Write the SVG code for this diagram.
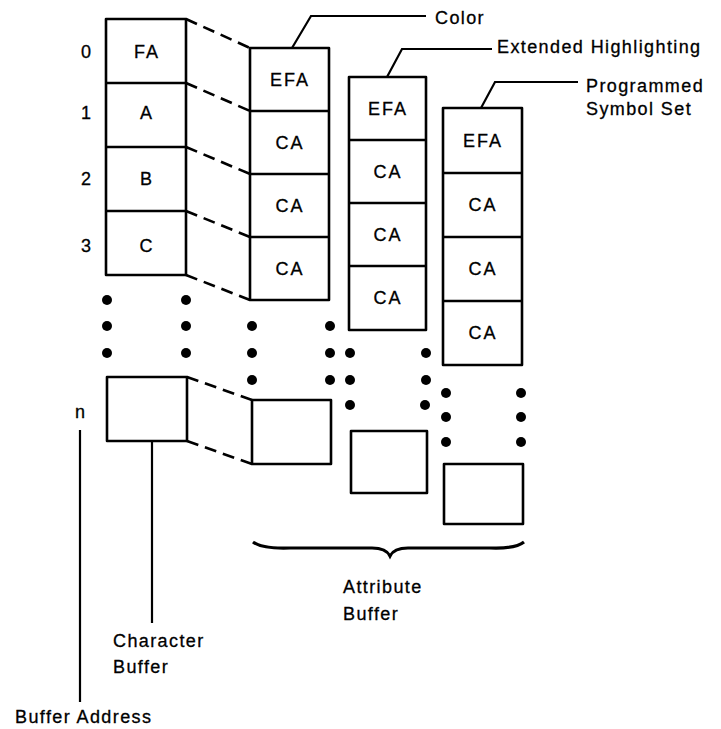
<svg xmlns="http://www.w3.org/2000/svg" width="721" height="729" viewBox="0 0 721 729">
<style>
.box{fill:none;stroke:#000;stroke-width:2.6;stroke-linejoin:round}
.dash{fill:none;stroke:#000;stroke-width:2.6;stroke-dasharray:12 7}
.lead{fill:none;stroke:#000;stroke-width:2.2}
.dot{fill:#000}
text{font-family:"Liberation Sans",Arial,sans-serif;font-size:18px;fill:#000;stroke:#000;stroke-width:0.3}
.cell{text-anchor:middle;letter-spacing:2px}
.lbl{letter-spacing:1.4px}
</style>
<rect width="721" height="729" fill="#fff"/>
<g id="addresses">
<text x="86" y="58" text-anchor="middle">0</text>
<text x="86" y="119" text-anchor="middle">1</text>
<text x="86" y="185" text-anchor="middle">2</text>
<text x="86" y="252" text-anchor="middle">3</text>
<text x="80" y="418" text-anchor="middle">n</text>
</g>
<g id="character-buffer">
<rect class="box" x="106" y="19" width="80" height="256"/>
<line class="box" x1="106" y1="83" x2="186" y2="83"/>
<line class="box" x1="106" y1="147" x2="186" y2="147"/>
<line class="box" x1="106" y1="211" x2="186" y2="211"/>
<text class="cell" x="147" y="58">FA</text>
<text class="cell" x="147" y="119">A</text>
<text class="cell" x="147" y="185">B</text>
<text class="cell" x="147" y="252">C</text>
<circle class="dot" cx="107" cy="300" r="5"/><circle class="dot" cx="107" cy="326" r="5"/><circle class="dot" cx="107" cy="353" r="5"/>
<circle class="dot" cx="186" cy="300" r="5"/><circle class="dot" cx="186" cy="326" r="5"/><circle class="dot" cx="186" cy="353" r="5"/>
<rect class="box" x="107" y="377" width="80" height="64"/>
</g>
<g id="color-buffer">
<rect class="box" x="250" y="48" width="79" height="252"/>
<line class="box" x1="250" y1="111" x2="329" y2="111"/>
<line class="box" x1="250" y1="174" x2="329" y2="174"/>
<line class="box" x1="250" y1="237" x2="329" y2="237"/>
<text class="cell" x="290" y="86">EFA</text>
<text class="cell" x="290" y="149">CA</text>
<text class="cell" x="290" y="212">CA</text>
<text class="cell" x="290" y="275">CA</text>
<circle class="dot" cx="252" cy="326" r="5"/><circle class="dot" cx="252" cy="353" r="5"/><circle class="dot" cx="252" cy="380" r="5"/>
<circle class="dot" cx="330" cy="326" r="5"/><circle class="dot" cx="330" cy="353" r="5"/><circle class="dot" cx="330" cy="380" r="5"/>
<rect class="box" x="252" y="400" width="79" height="64"/>
</g>
<g id="extended-highlighting-buffer">
<rect class="box" x="349" y="77" width="77" height="253"/>
<line class="box" x1="349" y1="140" x2="426" y2="140"/>
<line class="box" x1="349" y1="203" x2="426" y2="203"/>
<line class="box" x1="349" y1="266" x2="426" y2="266"/>
<text class="cell" x="388" y="115">EFA</text>
<text class="cell" x="388" y="178">CA</text>
<text class="cell" x="388" y="241">CA</text>
<text class="cell" x="388" y="304">CA</text>
<circle class="dot" cx="350" cy="353" r="5"/><circle class="dot" cx="350" cy="380" r="5"/><circle class="dot" cx="350" cy="405" r="5"/>
<circle class="dot" cx="426" cy="353" r="5"/><circle class="dot" cx="426" cy="380" r="5"/><circle class="dot" cx="425" cy="405" r="5"/>
<rect class="box" x="351" y="431" width="76" height="62"/>
</g>
<g id="programmed-symbol-set-buffer">
<rect class="box" x="443" y="108" width="79" height="257"/>
<line class="box" x1="443" y1="173" x2="522" y2="173"/>
<line class="box" x1="443" y1="237" x2="522" y2="237"/>
<line class="box" x1="443" y1="301" x2="522" y2="301"/>
<text class="cell" x="483" y="147">EFA</text>
<text class="cell" x="483" y="211">CA</text>
<text class="cell" x="483" y="275">CA</text>
<text class="cell" x="483" y="339">CA</text>
<circle class="dot" cx="446" cy="393" r="5"/><circle class="dot" cx="446" cy="417" r="5"/><circle class="dot" cx="446" cy="442" r="5"/>
<circle class="dot" cx="521" cy="393" r="5"/><circle class="dot" cx="521" cy="417" r="5"/><circle class="dot" cx="521" cy="442" r="5"/>
<rect class="box" x="444" y="464" width="79" height="60"/>
</g>
<g id="connectors">
<line class="dash" x1="186" y1="19" x2="250" y2="48"/>
<line class="dash" x1="186" y1="83" x2="250" y2="111"/>
<line class="dash" x1="186" y1="147" x2="250" y2="174"/>
<line class="dash" x1="186" y1="211" x2="250" y2="237"/>
<line class="dash" x1="186" y1="275" x2="250" y2="300"/>
<line class="dash" x1="187" y1="377" x2="252" y2="400"/>
<line class="dash" x1="187" y1="441" x2="252" y2="464"/>
<polyline class="lead" points="292,48 311,16 426,16"/>
<polyline class="lead" points="387,77 402,49 492,49"/>
<polyline class="lead" points="481,108 495,82 578,82"/>
<line class="lead" x1="152" y1="441" x2="152" y2="623"/>
<line class="lead" x1="80" y1="430" x2="80" y2="702"/>
<path d="M253,542 Q262,549 290,548 L372,548 Q386,548 390,556 Q394,548 408,548 L490,548 Q515,549 524,542" fill="none" stroke="#000" stroke-width="3.2"/>
</g>
<g id="labels">
<text class="lbl" x="435" y="24">Color</text>
<text class="lbl" x="497" y="53">Extended Highlighting</text>
<text class="lbl" x="586" y="92">Programmed</text>
<text class="lbl" x="586" y="115">Symbol Set</text>
<text class="lbl" x="343" y="593">Attribute</text>
<text class="lbl" x="343" y="620">Buffer</text>
<text class="lbl" x="113" y="647">Character</text>
<text class="lbl" x="113" y="673">Buffer</text>
<text class="lbl" x="15" y="723">Buffer Address</text>
</g>
</svg>
